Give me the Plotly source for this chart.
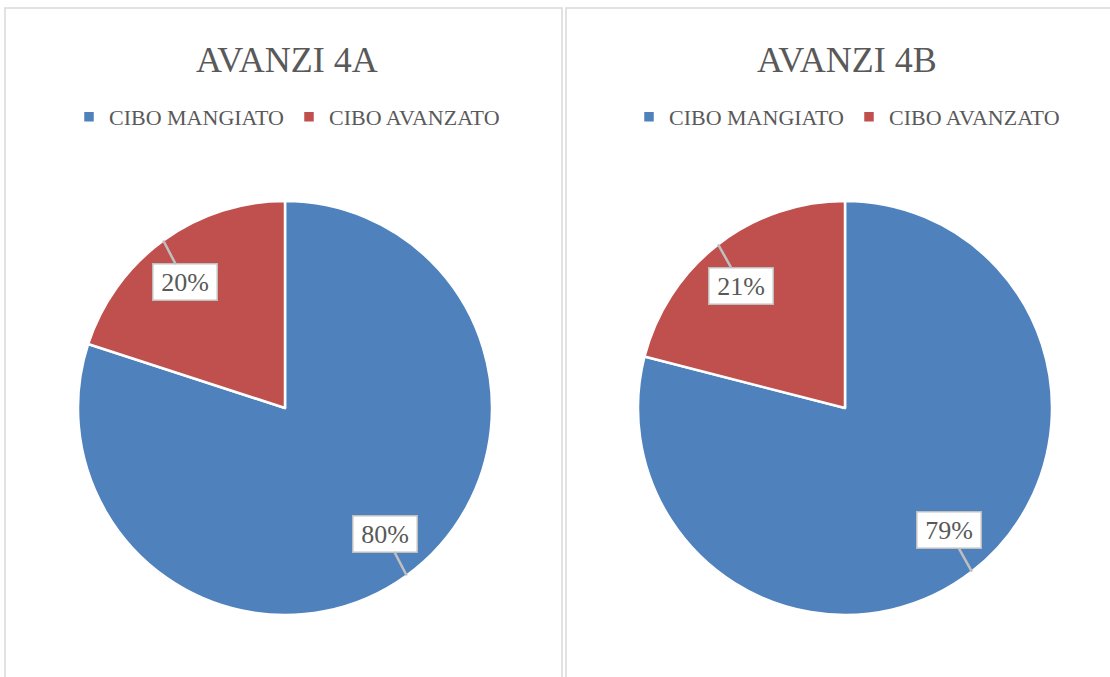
import math
import plotly.graph_objects as go

W, H = 1110, 677

# ---- data ----
categories = ["CIBO MANGIATO", "CIBO AVANZATO"]
titles = ["AVANZI 4A", "AVANZI 4B"]
values_4a = [80, 20]
values_4b = [79, 21]
colors = ["#4F81BD", "#C0504D"]

FONT = "Liberation Serif"
TXT = "#595959"

# pie geometry in pixels (layout only)
pies = [
    dict(cx=285, cy=408, r=207, panel=(5, 562), vals=values_4a, title=titles[0], legend="legend", suffix=""),
    dict(cx=845, cy=408, r=207, panel=(566, 1125), vals=values_4b, title=titles[1], legend="legend2", suffix="\u200b"),
]

fig = go.Figure()
annotations = []
shapes = []

for i, p in enumerate(pies):
    x0 = (p["cx"] - p["r"]) / W
    x1 = (p["cx"] + p["r"]) / W
    y0 = 1 - (p["cy"] + p["r"]) / H
    y1 = 1 - (p["cy"] - p["r"]) / H
    fig.add_trace(go.Pie(
        labels=[c + p["suffix"] for c in categories], values=p["vals"], sort=False, direction="clockwise",
        rotation=0, marker=dict(colors=colors, line=dict(color="white", width=2.5)),
        textinfo="none", hoverinfo="label+percent",
        domain=dict(x=[x0, x1], y=[y0, y1]), legend=p["legend"], showlegend=True,
    ))
    # panel border
    shapes.append(dict(type="rect", xref="paper", yref="paper",
                       x0=p["panel"][0] / W, x1=p["panel"][1] / W,
                       y0=-0.1, y1=1 - 8 / H,
                       line=dict(color="#D9D9D9", width=1.5), fillcolor="rgba(0,0,0,0)", layer="below"))
    # title
    annotations.append(dict(text=p["title"], x=(p["cx"] + 2) / W, y=1 - 60 / H, xref="paper", yref="paper",
                            showarrow=False, xanchor="center", yanchor="middle",
                            font=dict(family=FONT, size=36, color=TXT)))
    # callout labels
    total = sum(p["vals"])
    start = 0.0
    for v in p["vals"]:
        frac = v / total
        mid = (start + frac / 2) * 2 * math.pi
        start += frac
        tipx = p["cx"] + p["r"] * math.sin(mid)
        tipy = p["cy"] - p["r"] * math.cos(mid)
        bmid = mid - math.radians(2.5)
        bx = p["cx"] + 0.775 * p["r"] * math.sin(bmid)
        by = p["cy"] - 0.775 * p["r"] * math.cos(bmid)
        annotations.append(dict(
            text=f"{round(frac * 100)}%", x=tipx / W, y=1 - tipy / H, xref="paper", yref="paper",
            ax=bx - tipx, ay=by - tipy, axref="pixel", ayref="pixel",
            showarrow=True, arrowhead=0, arrowwidth=2.5, arrowcolor="#BFBFBF", standoff=0,
            bgcolor="white", bordercolor="#BFBFBF", borderwidth=1.5, borderpad=0,
            width=63, height=35, align="center", valign="middle",
            font=dict(family=FONT, size=26, color=TXT)))

legend_common = dict(orientation="h", xanchor="center", yanchor="middle",
                     font=dict(family=FONT, size=22, color=TXT), bgcolor="rgba(0,0,0,0)",
                     itemclick=False, itemdoubleclick=False, traceorder="normal")

fig.update_layout(
    width=W, height=H, margin=dict(l=0, r=0, t=0, b=0),
    paper_bgcolor="white", plot_bgcolor="white",
    legend=dict(x=(pies[0]["cx"] + 2) / W, y=1 - 117 / H, **legend_common),
    legend2=dict(x=(pies[1]["cx"] + 2) / W, y=1 - 117 / H, **legend_common),
    annotations=annotations, shapes=shapes,
)

fig.write_html("out.html", config={"displayModeBar": False},
               post_script="document.body.style.margin='0';document.body.style.overflow='hidden';")
